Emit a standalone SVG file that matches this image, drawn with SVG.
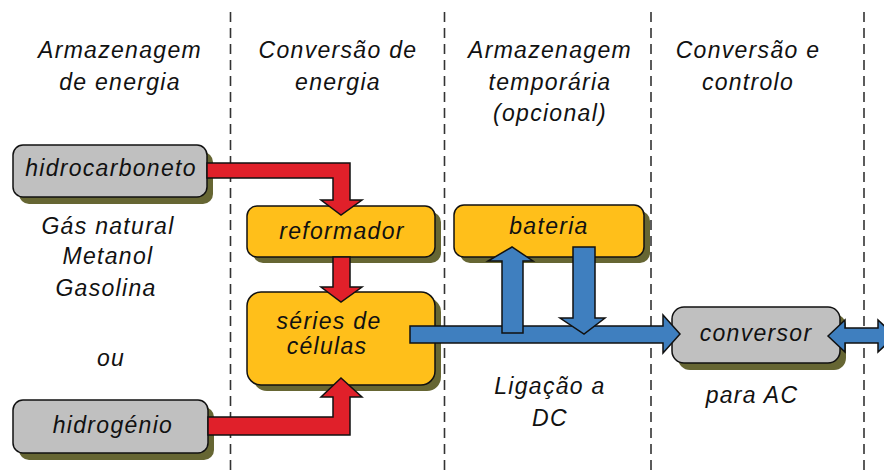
<svg xmlns="http://www.w3.org/2000/svg" width="884" height="471" viewBox="0 0 884 471">
<defs>
<style>
.t{font-family:"Liberation Sans",Arial,sans-serif;font-style:italic;font-size:23px;letter-spacing:1.3px;fill:#111;text-anchor:middle}
.sep{stroke:#333;stroke-width:1.6;stroke-dasharray:10 6;fill:none}
.sh{fill:#666633}
.grey{fill:#c0c0c0;stroke:#111;stroke-width:1.5}
.orange{fill:#ffbf1a;stroke:#111;stroke-width:1.5}
.red{fill:#e0202a;stroke:#111;stroke-width:1.5;stroke-linejoin:miter}
.blue{fill:#3f7fbf;stroke:#111;stroke-width:1.5;stroke-linejoin:miter}
</style>
</defs>
<rect width="884" height="471" fill="#fff"/>
<g id="separators">
<line class="sep" x1="230.5" y1="12" x2="230.5" y2="471"/>
<line class="sep" x1="444.5" y1="12" x2="444.5" y2="471"/>
<line class="sep" x1="651" y1="12" x2="651" y2="471"/>
<line class="sep" x1="864" y1="12" x2="864" y2="471"/>
</g>
<g id="headers">
<text class="t" x="120" y="58">Armazenagem</text>
<text class="t" x="120" y="90">de energia</text>
<text class="t" x="338" y="58">Conversão de</text>
<text class="t" x="338" y="90">energia</text>
<text class="t" x="550" y="58">Armazenagem</text>
<text class="t" x="550" y="90">temporária</text>
<text class="t" x="550" y="121">(opcional)</text>
<text class="t" x="748" y="58">Conversão e</text>
<text class="t" x="748" y="90">controlo</text>
</g>
<g id="hidrocarboneto">
<rect class="sh" x="19" y="152" width="194" height="52" rx="10"/>
<rect class="grey" x="13" y="145" width="194" height="52" rx="10"/>
<text class="t" x="111" y="176">hidrocarboneto</text>
</g>
<g id="hidrogenio">
<rect class="sh" x="19" y="407" width="195" height="53" rx="10"/>
<rect class="grey" x="13" y="400" width="195" height="53" rx="10"/>
<text class="t" x="113" y="433">hidrogénio</text>
</g>
<g id="fuels">
<text class="t" x="108" y="234">Gás natural</text>
<text class="t" x="108" y="264">Metanol</text>
<text class="t" x="106" y="296">Gasolina</text>
<text class="t" x="111" y="366">ou</text>
</g>
<g id="reformador">
<rect class="sh" x="253" y="212" width="188" height="51" rx="10"/>
<rect class="orange" x="247" y="206" width="188" height="51" rx="10"/>
<text class="t" x="342" y="239">reformador</text>
</g>
<g id="series">
<rect class="sh" x="253" y="298" width="188" height="93" rx="14"/>
<rect class="orange" x="247" y="292" width="188" height="93" rx="14"/>
<text class="t" x="329" y="329">séries de</text>
<text class="t" x="327" y="354">células</text>
</g>
<g id="bateria">
<rect class="sh" x="460" y="211" width="190" height="52" rx="10"/>
<rect class="orange" x="454" y="205" width="190" height="52" rx="10"/>
<text class="t" x="549" y="234">bateria</text>
</g>
<g id="conversor">
<rect class="sh" x="678" y="314" width="168" height="56" rx="12"/>
<rect class="grey" x="672" y="307" width="168" height="56" rx="12"/>
<text class="t" x="756" y="341">conversor</text>
</g>
<g id="labels">
<text class="t" x="550" y="394">Ligação a</text>
<text class="t" x="550" y="426">DC</text>
<text class="t" x="752" y="403">para AC</text>
</g>
<g id="connectors">
<polygon class="red" points="207,163 350,163 350,200 362,200 341,215 321,200 333,200 333,178 207,178"/>
<polygon class="red" points="333,257 350,257 350,287 362,287 341,302 321,287 333,287"/>
<polygon class="red" points="208,417 333,417 333,397 321,397 341,378 362,397 350,397 350,435 208,435"/>
<polygon class="blue" points="410,326 663,326 663,315 680,334 663,353 663,343 410,343"/>
<polygon class="blue" points="502,333 502,261 488,261 512,247 533,261 523,261 523,333"/>
<polygon class="blue" points="573,247 595,247 595,318 605,318 584,334 560,318 573,318"/>
<polygon class="blue" points="828,336 845,320 845,328 878,328 878,320 895,336 878,352 878,343 845,343 845,352"/>
</g>
</svg>
